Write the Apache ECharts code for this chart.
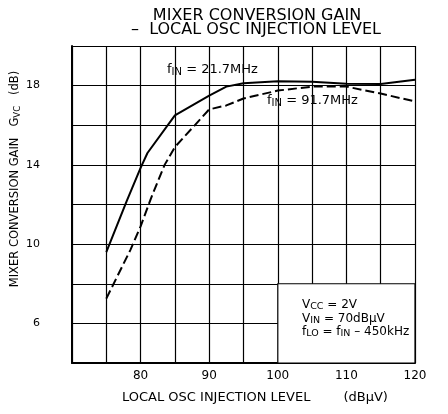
<!DOCTYPE html>
<html>
<head>
<meta charset="utf-8">
<script src="https://cdn.jsdelivr.net/npm/echarts@6/dist/echarts.min.js"></script>
<style>html,body{margin:0;padding:0;background:#fff}#c{width:448px;height:414px}</style>
</head>
<body>
<div id="c"></div>
<script>
// ---- data ----
const xTickLabels = [80, 90, 100, 110, 120];
const yTickLabels = [6, 10, 14, 18];
const level21 = [75, 78, 80, 81, 85, 90, 92.5, 95, 100, 105, 110, 115, 120];
const gain21  = [9.6, 12.2, 13.85, 14.6, 16.5, 17.5, 17.95, 18.12, 18.22, 18.2, 18.1, 18.08, 18.3];
const level91 = [75, 78.5, 80, 81.5, 83.5, 85, 90, 92.5, 95, 100, 105, 110, 115, 120];
const gain91  = [7.25, 9.7, 10.9, 12.3, 14.0, 14.9, 16.8, 17.0, 17.35, 17.75, 17.95, 17.95, 17.6, 17.2];
const noteBox = [[100, 4], [120, 8]];
const noteLines = ['V{sub|CC} = 2V', 'V{sub|IN} = 70dBμV', 'f{sub|LO} = f{sub|IN} – 450kHz'];

const FONT = 'DejaVu Sans';
const chart = echarts.init(document.getElementById('c'), null, {renderer: 'canvas'});
const pairs = (xs, ys) => xs.map((x, i) => [x, ys[i]]);
const subStyle = (size, pad) => ({fontFamily: FONT, fontSize: size, padding: [pad, 0, 0, 0], fill: '#000'});
const noteY = [298, 311.5, 325];

chart.setOption({
  animation: false,
  backgroundColor: '#fff',
  grid: {left: 72, right: 33, top: 46, bottom: 51},
  xAxis: {
    type: 'value', min: 70, max: 120, interval: 5,
    axisLine: {show: true, lineStyle: {color: '#000', width: 2}},
    axisTick: {show: false},
    splitLine: {show: true, lineStyle: {color: '#000', width: 1.2}},
    axisLabel: {
      margin: 7, color: '#000', fontFamily: FONT, fontSize: 12,
      formatter: v => xTickLabels.includes(v) ? String(v) : ''
    }
  },
  yAxis: {
    type: 'value', min: 4, max: 20, interval: 2,
    axisLine: {show: true, lineStyle: {color: '#000', width: 2}},
    axisTick: {show: false},
    splitLine: {show: true, lineStyle: {color: '#000', width: 1.2}},
    axisLabel: {
      margin: 32, color: '#000', fontFamily: FONT, fontSize: 11,
      formatter: v => yTickLabels.includes(v) ? String(v) : ''
    }
  },
  series: [
    {
      type: 'line', data: pairs(level21, gain21), symbol: 'none',
      lineStyle: {color: '#000', width: 2}, z: 5,
      markArea: {
        silent: true,
        itemStyle: {color: '#fff', borderColor: '#000', borderWidth: 1.2},
        data: [[{coord: noteBox[0]}, {coord: noteBox[1]}]]
      }
    },
    {
      type: 'line', data: pairs(level91, gain91), symbol: 'none',
      lineStyle: {color: '#000', width: 2, type: [9, 4]}, z: 5
    }
  ],
  graphic: [
    {type: 'text', x: 257, y: 16, style: {
      text: 'MIXER CONVERSION GAIN',
      align: 'center', verticalAlign: 'middle', fontFamily: FONT, fontSize: 16, fill: '#000'}},
    {type: 'text', x: 256, y: 30, style: {
      text: '–  LOCAL OSC INJECTION LEVEL',
      align: 'center', verticalAlign: 'middle', fontFamily: FONT, fontSize: 16, fill: '#000'}},
    {type: 'text', x: 122, y: 398, style: {
      text: 'LOCAL OSC INJECTION LEVEL        (dBμV)',
      align: 'left', verticalAlign: 'middle', fontFamily: FONT, fontSize: 13, fill: '#000'}},
    {type: 'text', x: 8, y: 179, rotation: Math.PI / 2, style: {
      text: 'MIXER CONVERSION GAIN   G{sub|VC}   (dB)',
      align: 'center', verticalAlign: 'top', fontFamily: FONT, fontSize: 11.5, fill: '#000',
      rich: {sub: subStyle(8.5, 5)}}},
    {type: 'text', x: 167, y: 62, z: 10, style: {
      text: 'f{sub|IN} = 21.7MHz', fontFamily: FONT, fontSize: 13, fill: '#000',
      rich: {sub: subStyle(10, 5)}}},
    {type: 'text', x: 267, y: 93, z: 10, style: {
      text: 'f{sub|IN} = 91.7MHz', fontFamily: FONT, fontSize: 13, fill: '#000',
      rich: {sub: subStyle(10, 5)}}}
  ].concat(noteLines.map((t, i) => ({
    type: 'text', x: 302, y: noteY[i], z: 10, style: {
      text: t, fontFamily: FONT, fontSize: 12, fill: '#000',
      rich: {sub: subStyle(9.5, 4)}}
  })))
});
</script>
</body>
</html>
